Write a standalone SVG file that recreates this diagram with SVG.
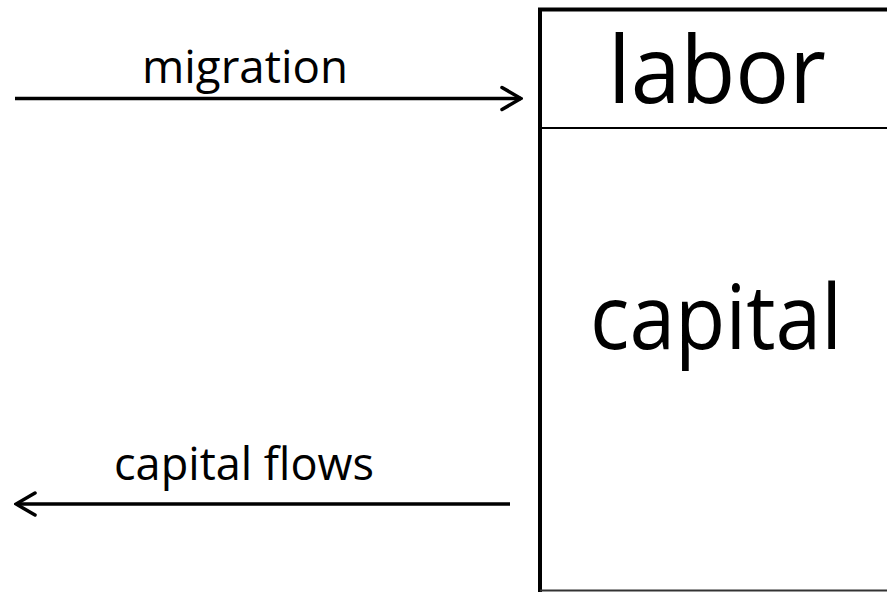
<svg xmlns="http://www.w3.org/2000/svg" width="887" height="592" viewBox="0 0 887 592">
<style>
text{font-family:"Open Sans","Noto Sans","Liberation Sans",sans-serif;fill:#000}
.big{text-anchor:middle}
.lbl{font-size:46px;text-anchor:middle}
.conn{stroke:#000;stroke-width:3.5;fill:none}
</style>
<defs>
<marker id="head" viewBox="0 0 24 28" refX="22" refY="14" markerWidth="24" markerHeight="28" markerUnits="userSpaceOnUse" orient="auto">
<path d="M3,3 L22,14 L3,25" fill="none" stroke="#000" stroke-width="3.5" stroke-linecap="round" stroke-linejoin="miter"/>
</marker>
</defs>
<rect width="887" height="592" fill="#fff"/>
<g id="box">
<path d="M540,592 L540,9.5 L900,9.5" fill="none" stroke="#000" stroke-width="4"/>
<line x1="540" y1="590.5" x2="900" y2="590.5" stroke="#333" stroke-width="2"/>
<line x1="540" y1="128" x2="900" y2="128" stroke="#000" stroke-width="2"/>
<text class="big" x="717" y="103" font-size="94" textLength="218" lengthAdjust="spacingAndGlyphs">labor</text>
<text class="big" x="716" y="349" font-size="89" textLength="252" lengthAdjust="spacingAndGlyphs">capital</text>
</g>
<g id="connectors">
<line class="conn" x1="15" y1="98.5" x2="521" y2="98.5" marker-end="url(#head)"/>
<line class="conn" x1="510" y1="504" x2="16" y2="504" marker-end="url(#head)"/>
</g>
<g id="labels">
<text class="lbl" x="245" y="83" textLength="206" lengthAdjust="spacingAndGlyphs">migration</text>
<text class="lbl" x="244" y="480" textLength="260" lengthAdjust="spacingAndGlyphs">capital flows</text>
</g>
</svg>
